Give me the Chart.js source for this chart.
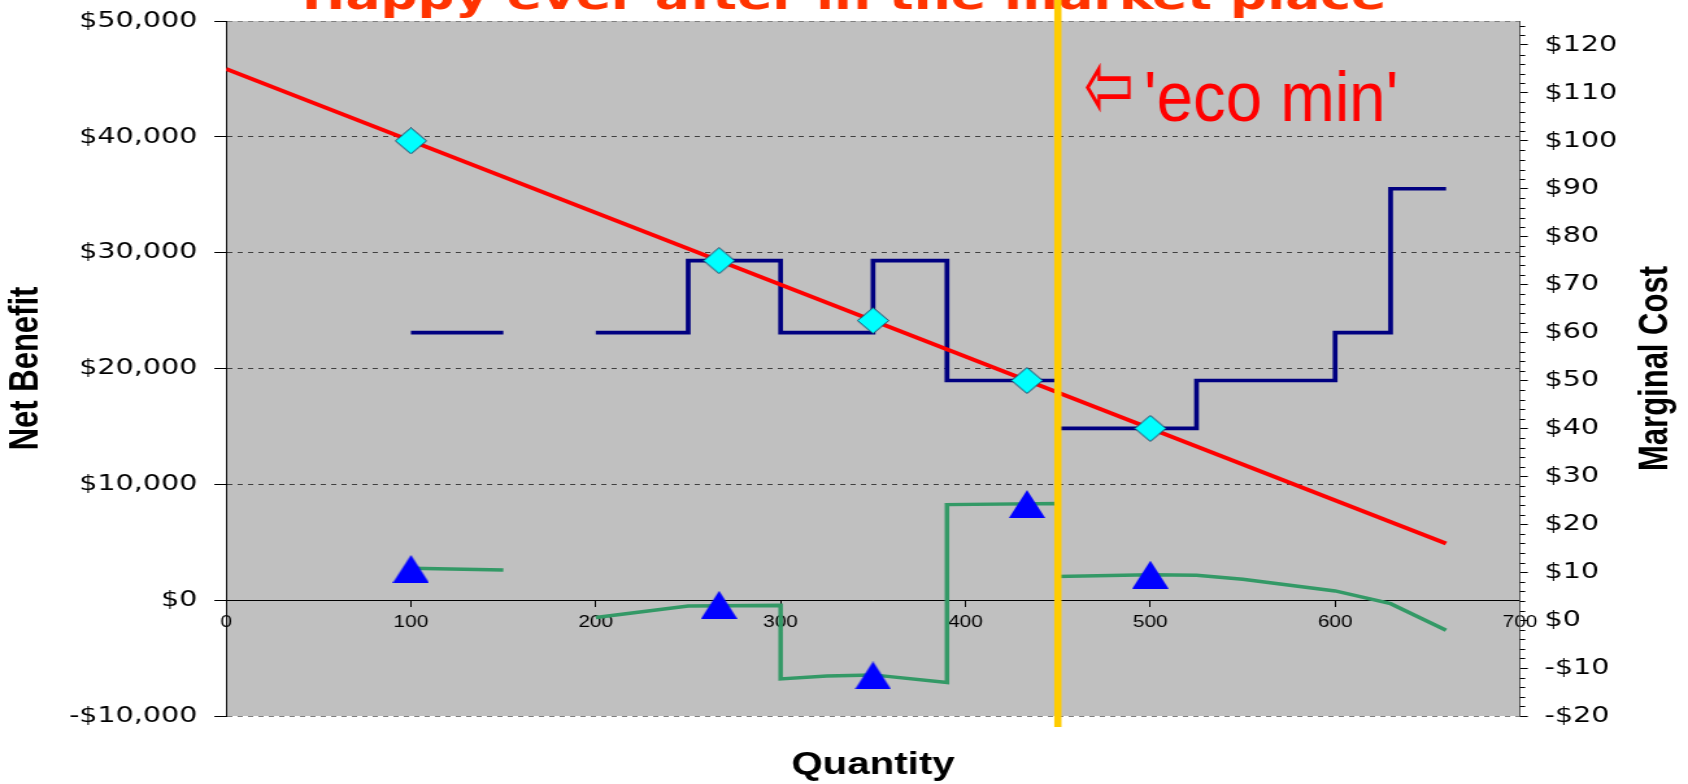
<!DOCTYPE html>
<html>
<head>
<meta charset="utf-8">
<title>Happy ever after in the market place</title>
<script src="https://cdn.jsdelivr.net/npm/chart.js@4.4.1/dist/chart.umd.min.js"></script>
<style>
  html, body { margin: 0; padding: 0; width: 1688px; height: 784px; overflow: hidden; background: #ffffff; }
  /* the chart is laid out on a 1300px wide canvas and widened to the page */
  #wrap { position: absolute; left: 0; top: -31px; width: 1300px; height: 815px;
          transform: scaleX(1.298462); transform-origin: 0 0; }
</style>
</head>
<body>
<div id="wrap"><canvas id="chart" width="1300" height="815"></canvas></div>
<script>
// Marginal benefit (demand) line, right axis
const demandQty   = [0, 660];
const demandPrice = [115, 16];

// Marginal cost step curve, right axis (null breaks the line)
const costQty   = [100, 150, 175, 200, 250, 250, 300, 300, 350, 350, 390, 390, 450, 450, 525, 525, 600, 600, 630, 630, 660];
const costPrice = [60, 60, null, 60, 60, 75, 75, 60, 60, 75, 75, 50, 50, 40, 40, 50, 50, 60, 60, 90, 90];

// Net benefit curve, left axis (null breaks the line)
const netQty     = [100, 150, 175, 200, 250, 300, 300, 325, 350, 390, 390, 450, 450, 500, 525, 550, 600, 630, 660];
const netBenefit = [2750, 2600, null, -1500, -500, -450, -6800, -6550, -6450, -7100, 8250, 8350, 2050, 2200, 2150, 1800, 800, -300, -2600];

// Offer points: price on the demand line and the matching net benefit
const offerQty   = [100, 266.7, 350, 433.3, 500];
const offerPrice = [100, 75, 62.5, 50, 40];
const offerNet   = [2700, -400, -6500, 8300, 2200];

// 'eco min' quantity marker
const ecoQty  = [450, 450];
const ecoSpan = [55000, -10950];

// Axis ticks
const xTicks     = [0, 100, 200, 300, 400, 500, 600, 700];
const leftTicks  = [-10000, 0, 10000, 20000, 30000, 40000, 50000];
const rightTicks = [-20, -10, 0, 10, 20, 30, 40, 50, 60, 70, 80, 90, 100, 110, 120];
const rightMinorStep = 2;

const pts = (xs, ys) => xs.map((x, i) => ({ x: x, y: ys[i] }));
const money = v => (v < 0 ? '-$' : '$') + Math.abs(v).toLocaleString('en-US');

// marker images
function diamondMarker(w, h) {
  const c = document.createElement('canvas');
  c.width = w; c.height = h;
  const g = c.getContext('2d');
  g.beginPath();
  g.moveTo(w / 2, 0.5); g.lineTo(w - 0.5, h / 2); g.lineTo(w / 2, h - 0.5); g.lineTo(0.5, h / 2);
  g.closePath();
  g.fillStyle = '#00FFFF'; g.fill();
  g.strokeStyle = '#1F3A5F'; g.lineWidth = 1; g.stroke();
  return c;
}
function triangleMarker(w, h) {
  const c = document.createElement('canvas');
  c.width = w; c.height = h;
  const g = c.getContext('2d');
  g.beginPath();
  g.moveTo(w / 2, 0); g.lineTo(w, h); g.lineTo(0, h);
  g.closePath();
  g.fillStyle = '#0000FF'; g.fill();
  return c;
}

const plotBackground = {
  id: 'plotBackground',
  beforeDraw(chart) {
    const { ctx, chartArea: a } = chart;
    ctx.save();
    ctx.fillStyle = '#C0C0C0';
    ctx.fillRect(a.left, a.top, a.right - a.left, a.bottom - a.top);
    ctx.restore();
  }
};

const rightAxisExtras = {
  id: 'rightAxisExtras',
  afterDraw(chart) {
    const { ctx, chartArea: a } = chart;
    const s = chart.scales.y1;
    ctx.save();
    // minor tick marks
    ctx.strokeStyle = '#000'; ctx.lineWidth = 1;
    ctx.beginPath();
    for (let v = s.min + rightMinorStep; v < s.max; v += rightMinorStep) {
      if (v % 10 === 0) continue;
      const y = Math.round(s.getPixelForValue(v)) + 0.5;
      ctx.moveTo(a.right, y); ctx.lineTo(a.right + 4, y);
    }
    ctx.stroke();
    // axis title, reading upwards
    ctx.translate(s.right - 24.6, (a.top + a.bottom) / 2);
    ctx.rotate(-Math.PI / 2);
    ctx.fillStyle = '#000';
    ctx.font = 'bold 31px "Liberation Sans", Arial, sans-serif';
    ctx.textAlign = 'center'; ctx.textBaseline = 'middle';
    ctx.fillText('Marginal Cost', 0, 0);
    ctx.restore();
  }
};

const ecoLabel = {
  id: 'ecoLabel',
  afterDatasetsDraw(chart) {
    const { ctx } = chart;
    const x = chart.scales.x, y = chart.scales.y;
    ctx.save();
    ctx.fillStyle = '#FF0000';
    // hollow arrow
    ctx.save();
    ctx.translate(x.getPixelForValue(464), y.getPixelForValue(43800));
    ctx.scale(0.46, 1);
    ctx.textBaseline = 'middle';
    ctx.font = '100px "DejaVu Sans", sans-serif';
    ctx.fillText('\u21E6', 0, 0);
    ctx.restore();
    // label
    ctx.save();
    ctx.translate(x.getPixelForValue(496.6), y.getPixelForValue(41357));
    ctx.scale(0.72, 1);
    ctx.textBaseline = 'alphabetic';
    ctx.font = '70px "Liberation Sans", Arial, sans-serif';
    ctx.fillText("'eco min'", 0, 0);
    ctx.restore();
    ctx.restore();
  }
};

const diamond = diamondMarker(25, 27);
const triangle = triangleMarker(28, 28);

new Chart(document.getElementById('chart'), {
  type: 'line',
  data: {
    datasets: [
      { label: 'eco min', data: pts(ecoQty, ecoSpan), xAxisID: 'x', yAxisID: 'y',
        borderColor: '#FFCC00', borderWidth: 5.6, pointRadius: 0, clip: false, order: 0 },
      { label: 'Offer price', data: pts(offerQty, offerPrice), xAxisID: 'x', yAxisID: 'y1',
        showLine: false, pointStyle: diamond, pointRadius: 12, order: 1 },
      { label: 'Offer net benefit', data: pts(offerQty, offerNet), xAxisID: 'x', yAxisID: 'y',
        showLine: false, pointStyle: triangle, pointRadius: 12, order: 2 },
      { label: 'Marginal Benefit', data: pts(demandQty, demandPrice), xAxisID: 'x', yAxisID: 'y1',
        borderColor: '#FF0000', borderWidth: 4, pointRadius: 0, tension: 0, order: 3 },
      { label: 'Marginal Cost', data: pts(costQty, costPrice), xAxisID: 'x', yAxisID: 'y1',
        borderColor: '#000080', borderWidth: 3.7, pointRadius: 0, tension: 0,
        borderJoinStyle: 'miter', borderCapStyle: 'butt', order: 4 },
      { label: 'Net Benefit', data: pts(netQty, netBenefit), xAxisID: 'x', yAxisID: 'y',
        borderColor: '#339966', borderWidth: 3.5, pointRadius: 0, tension: 0,
        borderJoinStyle: 'miter', order: 5 }
    ]
  },
  options: {
    responsive: false,
    animation: false,
    events: [],
    layout: { padding: 0 },
    plugins: {
      legend: { display: false },
      tooltip: { enabled: false },
      title: {
        display: true,
        text: 'Happy ever after in the market place',
        color: '#FF3300',
        font: { family: '"DejaVu Sans", sans-serif', size: 40, weight: 'bold', lineHeight: 1.0 },
        padding: { top: 10, bottom: 2 }
      }
    },
    scales: {
      x: {
        type: 'linear', axis: 'x', position: { y: 0 }, min: 0, max: 700,
        afterBuildTicks: s => { s.ticks = xTicks.map(v => ({ value: v })); },
        grid: { drawOnChartArea: false, drawTicks: true, tickLength: 6, color: '#000', lineWidth: 1 },
        border: { display: true, color: '#000', width: 1 },
        ticks: { autoSkip: false, maxRotation: 0, padding: 7, color: '#000',
                 font: { family: '"Liberation Sans", Arial, sans-serif', size: 16 } }
      },
      xTitle: {
        type: 'linear', axis: 'x', position: 'bottom', min: 0, max: 700,
        ticks: { display: false }, grid: { display: false }, border: { display: false },
        title: { display: true, text: 'Quantity', color: '#000',
                 font: { family: '"Liberation Sans", Arial, sans-serif', size: 31, weight: 'bold', lineHeight: 1.2 },
                 padding: { top: 0, bottom: 0 } },
        afterFit: s => { s.height = 68; }
      },
      y: {
        type: 'linear', position: 'left', min: -10000, max: 50000,
        afterBuildTicks: s => { s.ticks = leftTicks.map(v => ({ value: v })); },
        afterFit: s => { s.width = 174.1; },
        ticks: { padding: 13, color: '#000', callback: v => money(v),
                 font: { family: '"DejaVu Sans", sans-serif', size: 22 } },
        grid: {
          color: c => (c.tick && (c.tick.value === 50000 || c.tick.value === -10000)) ? '#808080' : '#404040',
          lineWidth: 1, drawTicks: true, tickLength: 9, tickColor: '#000', tickBorderDash: []
        },
        border: { display: true, color: '#000', width: 1, dash: [4, 4] },
        title: { display: true, text: 'Net Benefit', color: '#000',
                 font: { family: '"Liberation Sans", Arial, sans-serif', size: 31, weight: 'bold', lineHeight: 1.2 },
                 padding: { top: 2, bottom: 0 } }
      },
      y1: {
        type: 'linear', position: 'right', min: -20, max: 125,
        afterBuildTicks: s => { s.ticks = rightTicks.map(v => ({ value: v })); },
        afterFit: s => { s.width = 129.4; },
        ticks: { padding: 13, color: '#000', callback: v => money(v),
                 font: { family: '"DejaVu Sans", sans-serif', size: 22 } },
        grid: { drawOnChartArea: false, drawTicks: true, tickLength: 6, color: '#000', lineWidth: 1 },
        border: { display: true, color: '#505050', width: 1 }
      }
    }
  },
  plugins: [plotBackground, rightAxisExtras, ecoLabel]
});
</script>
</body>
</html>
